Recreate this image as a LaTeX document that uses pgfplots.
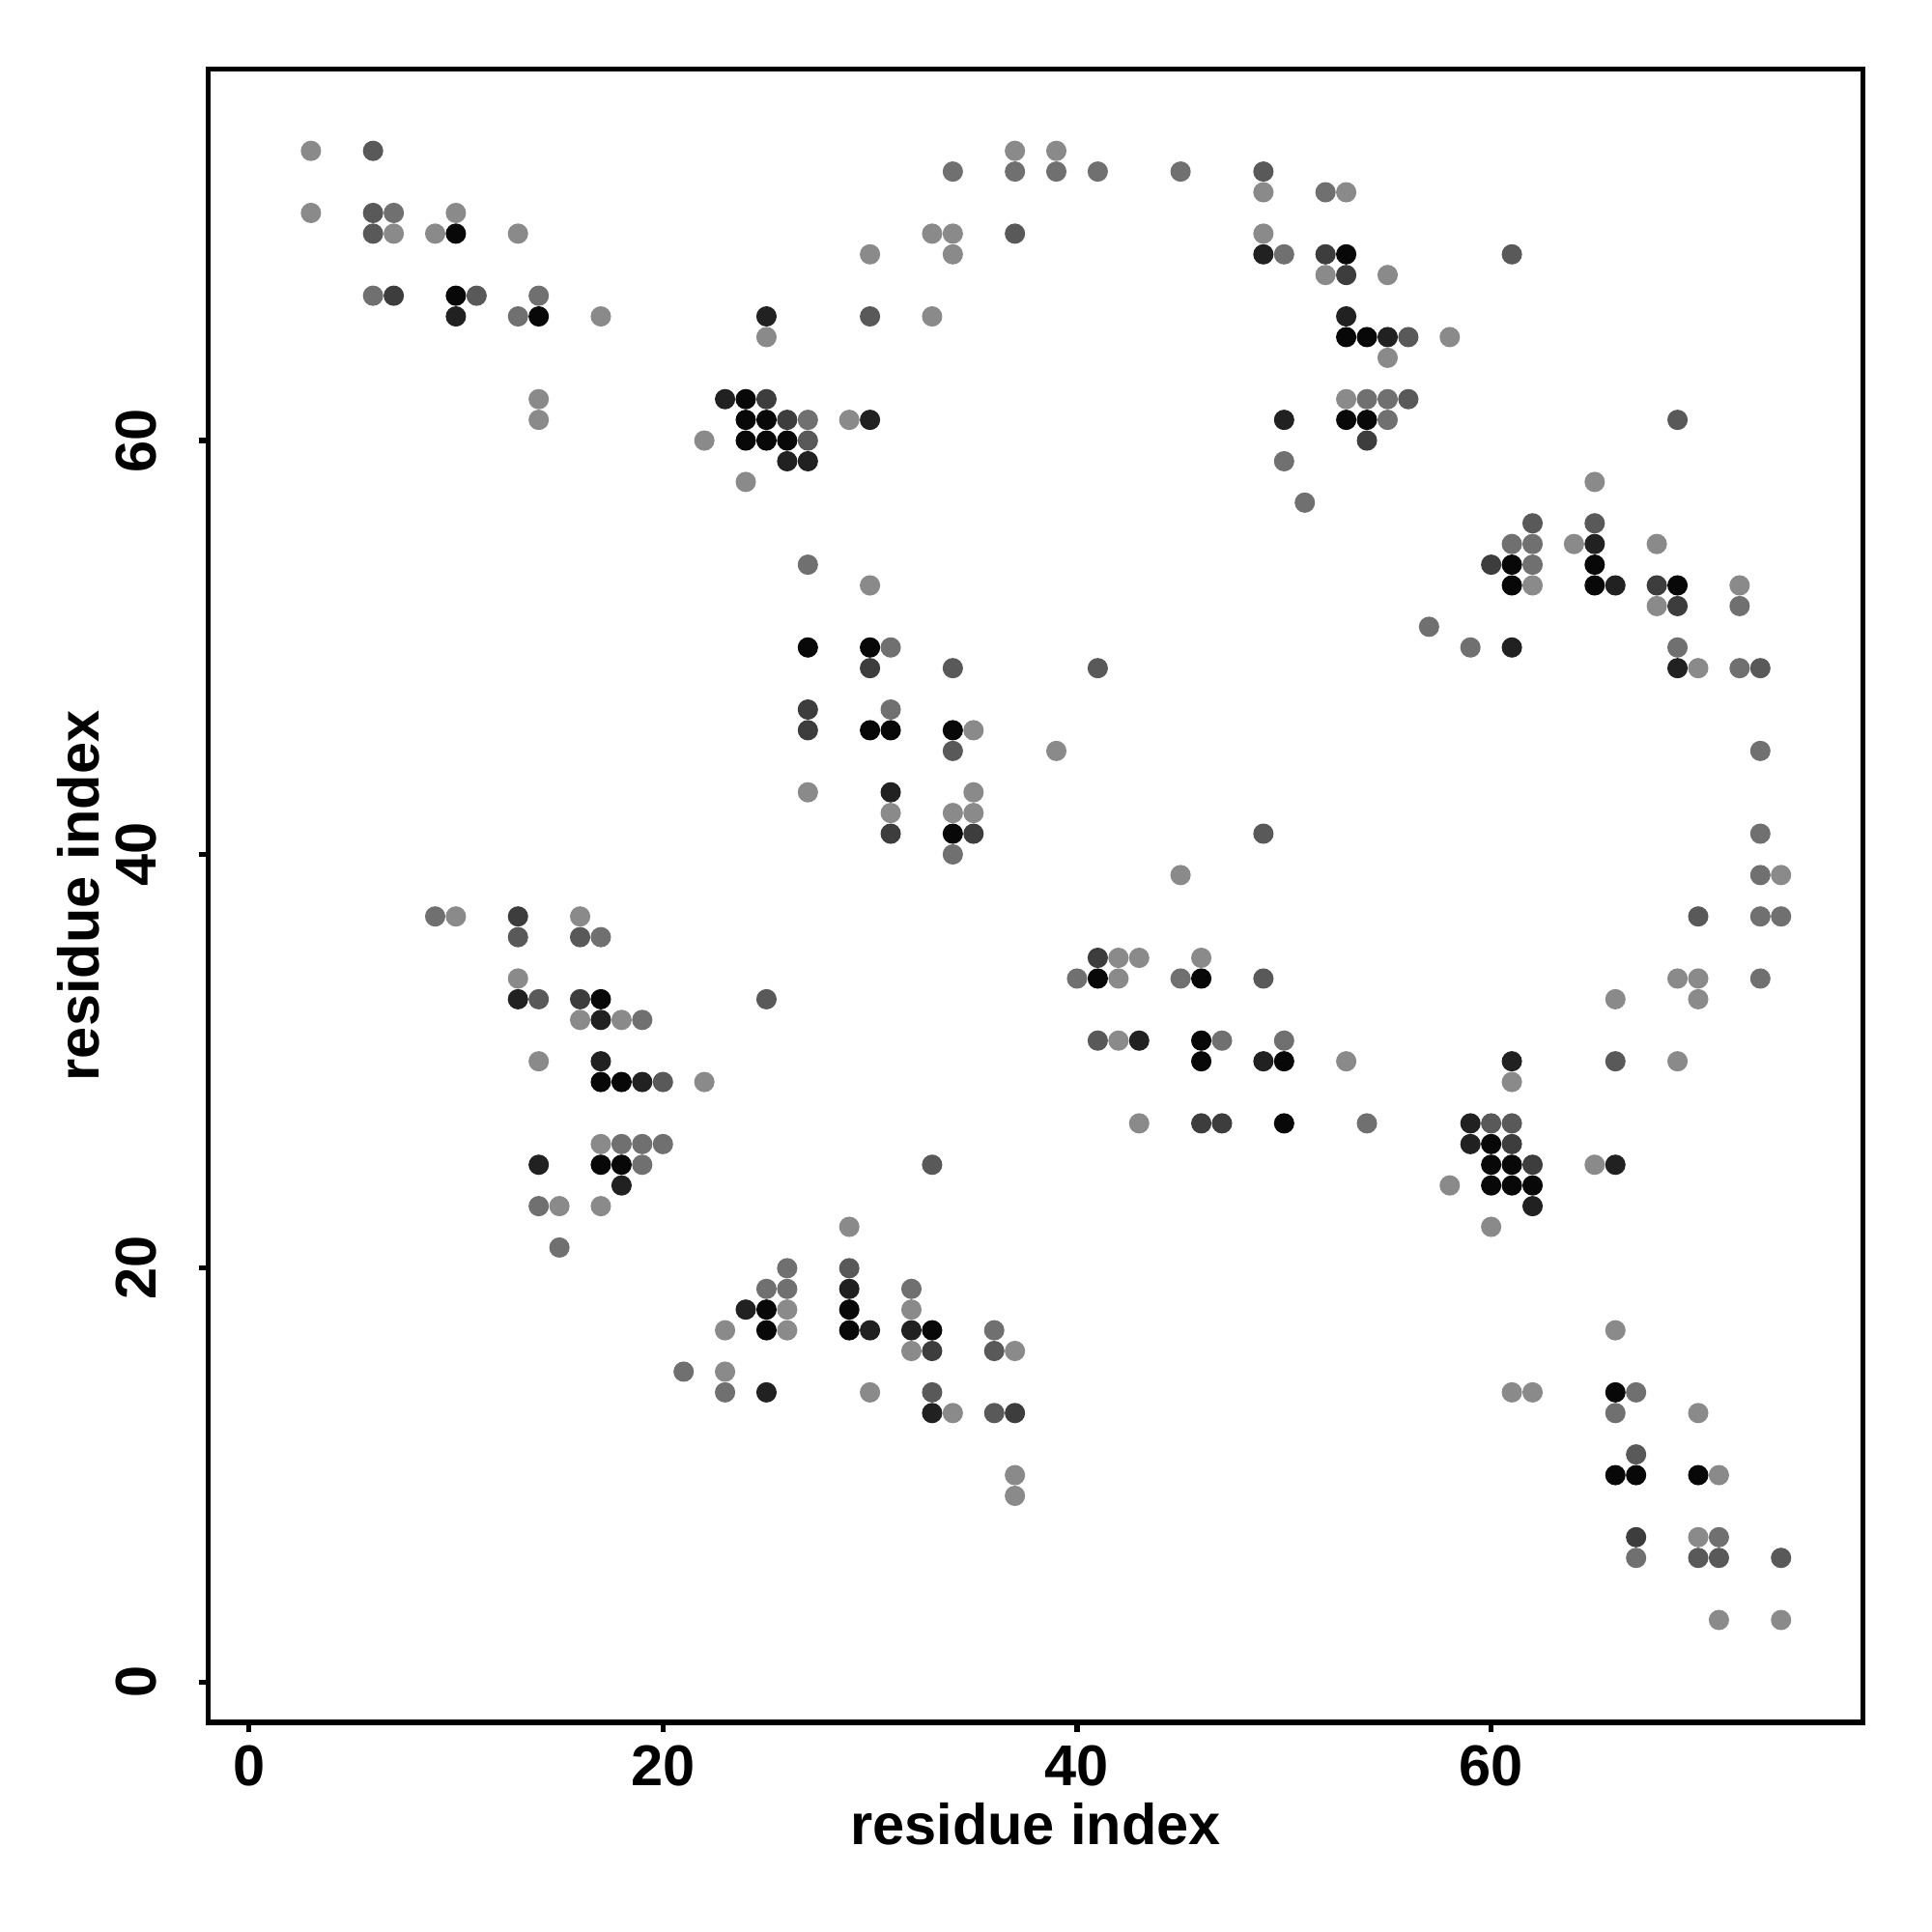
\documentclass[border=0pt]{standalone}
\usepackage{fontspec}
\setmainfont{Liberation Sans}
\usepackage{pgfplots}
\pgfplotsset{compat=1.18}
\definecolor{cK}{gray}{0.03}
\definecolor{cV}{gray}{0.13}
\definecolor{cD}{gray}{0.24}
\definecolor{cS}{gray}{0.35}
\definecolor{cM}{gray}{0.44}
\definecolor{cL}{gray}{0.54}
\pgfplotsset{dot/.style={only marks, mark=*, mark size=2.45pt, color=#1, mark options={draw=none, fill=#1}}}

\begin{document}
\begin{tikzpicture}
\begin{axis}[
  scale only axis,
  width=431.7pt, height=431.4pt,
  xmin=-1.96, xmax=77.96, ymin=-1.96, ymax=77.96,
  xtick={0,20,40,60}, ytick={0,20,40,60},
  xtick pos=bottom, ytick pos=left,
  tick align=outside,
  major tick length=2.4pt,
  axis line style={line width=1.4pt},
  every tick/.style={black, line width=1.3pt},
  /pgf/number format/assume math mode=true,
  tick label style={font=\fontsize{15}{18}\selectfont\bfseries},
  xticklabel style={anchor=base, inner sep=0pt, yshift=-14.1pt},
  yticklabel style={xshift=-11.2pt, rotate=90, anchor=base, inner sep=0pt},
  every axis x label/.style={at={(rel axis cs:0.5,0)}, yshift=-31.8pt, anchor=base, inner sep=0pt, font=\fontsize{15}{18}\selectfont\bfseries},
  every axis y label/.style={at={(rel axis cs:0,0.5)}, xshift=-28.6pt, rotate=90, anchor=base, inner sep=0pt, font=\fontsize{15}{18}\selectfont\bfseries},
  xlabel={residue index},
  ylabel={residue index},
]
% lightest gray
\addplot[dot=cL] coordinates {
(3,74) (3,71) (10,71) (7,70) (9,70) (13,70) (17,66) (14,62) (14,61) (22,60) (24,58)
(37,74) (39,74) (49,72) (33,70) (34,70) (49,70) (30,69) (34,69) (33,66) (25,65) (29,61) (30,53)
(53,72) (52,68) (55,68) (58,65) (55,64) (53,62) (65,58) (64,55) (68,55) (62,53) (72,53) (68,52)
(10,37) (16,37) (13,34) (16,32) (18,32) (14,30) (22,29) (17,26)
(35,46) (39,45) (27,43) (35,43) (31,42) (34,42) (35,42) (45,39) (42,35) (43,35) (46,35) (42,34) (42,31) (43,27)
(70,49) (74,39) (69,34) (70,34) (66,33) (70,33) (53,30) (69,30) (61,29)
(15,23) (17,23) (23,17) (23,15)
(29,22) (26,18) (32,18) (26,17) (32,16) (37,16) (30,14) (34,13) (37,10) (37,9)
(65,25) (58,24) (60,22) (66,17) (61,14) (62,14) (70,13) (71,10) (70,7) (71,3) (74,3)
};
% medium gray
\addplot[dot=cM] coordinates {
(7,71) (6,67) (14,67) (13,66)
(34,73) (37,73) (39,73) (41,73) (45,73) (50,69) (27,61) (50,59) (27,54)
(52,72) (54,62) (55,62) (55,61) (51,57) (61,55) (62,55) (62,54) (72,52)
(9,37) (17,36) (19,32) (18,26) (19,26) (20,26)
(31,50) (31,47) (34,40) (40,34) (45,34) (47,31) (50,31)
(57,51) (59,50) (69,50) (72,49) (73,45) (73,41) (73,39) (73,37) (74,37) (73,34) (54,27)
(19,25) (14,23) (15,21) (21,15) (23,14)
(26,20) (25,19) (26,19) (32,19) (36,17)
(67,14) (66,13) (71,7) (67,6)
};
% dark-medium gray
\addplot[dot=cS] coordinates {
(6,74) (6,71) (6,70) (11,67)
(49,73) (37,70) (30,66) (27,60)
(61,69) (56,65) (56,62) (69,61) (62,56) (65,56)
(13,36) (16,36) (14,33) (20,29)
(34,49) (41,49) (34,45) (49,41) (49,34) (25,33) (41,31)
(73,49) (70,37) (66,30) (60,27) (61,27)
(33,25) (29,20) (36,16) (33,14) (36,13)
(67,11) (70,6) (71,6) (74,6)
};
% dark gray
\addplot[dot=cD] coordinates {
(7,67) (25,62) (26,61) (52,69) (53,68) (54,60) (60,54) (68,53) (69,52)
(13,37) (16,33) (30,49) (27,47) (27,46) (31,41) (35,41) (41,35) (46,27) (47,27)
(61,26) (33,16) (37,13) (62,25) (67,7)
};
% very dark gray
\addplot[dot=cV] coordinates {
(10,66) (23,62) (49,69) (25,66) (30,61) (50,61) (26,59) (27,59)
(53,66) (55,65) (65,55) (66,53)
(13,33) (17,32) (17,30) (19,29)
(31,43) (43,31) (49,30)
(61,50) (69,49) (61,30) (59,27) (59,26)
(14,25) (18,24) (24,18)
(29,19) (30,17) (32,17) (25,14) (33,13)
(66,25) (62,23)
};
% black
\addplot[dot=cK] coordinates {
(10,70) (10,67) (14,66) (24,62) (24,61) (24,60) (25,61) (25,60) (26,60)
(53,69) (53,65) (54,65) (53,61) (54,61) (61,54) (65,54) (61,53) (65,53) (69,53)
(17,33) (17,29) (18,29)
(27,50) (30,50) (30,46) (31,46) (34,46) (34,41) (41,34) (46,34) (46,31) (46,30) (50,30) (50,27)
(60,26) (17,25) (18,25)
(25,18) (29,18) (25,17) (29,17) (33,17)
(60,25) (61,25) (60,24) (61,24) (62,24)
(66,14) (66,10) (67,10) (70,10)
};
\end{axis}
\path ([xshift=-54.33pt,yshift=-54.63pt]current axis.south west) rectangle ([xshift=17.99pt,yshift=17.99pt]current axis.north east);
\end{tikzpicture}
\end{document}
